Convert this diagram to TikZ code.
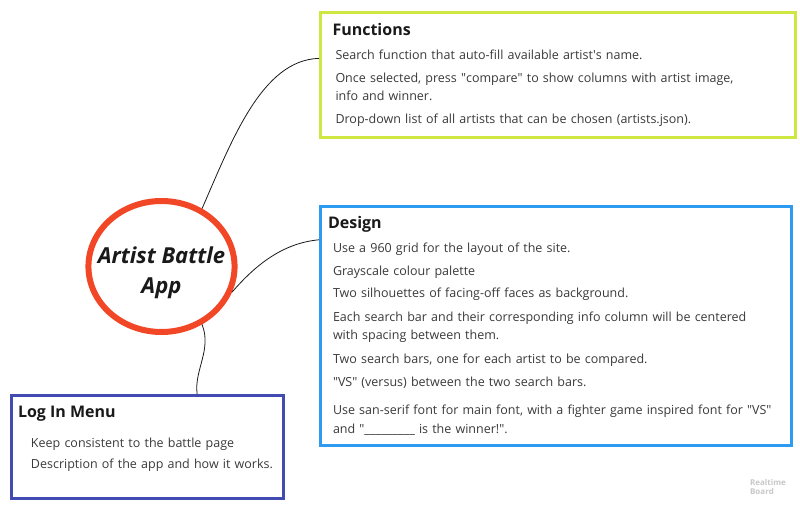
\documentclass[tikz,border=0pt]{standalone}
\usepackage{fontspec}
\setmainfont{Open Sans}
\usepackage{tikz}
\usepackage{xcolor}
\usetikzlibrary{shapes.geometric}

\definecolor{boardred}{HTML}{F24726}
\definecolor{boardlime}{HTML}{CEE741}
\definecolor{boardblue}{HTML}{2D9BF0}
\definecolor{boardnavy}{HTML}{414BB2}
\definecolor{bodygray}{HTML}{3A3A3A}

\tikzset{
  topicbox/.style={rectangle, draw=#1, line width=3pt, fill=white, anchor=north west,
    align=left, inner ysep=11pt, text=bodygray, font=\fontsize{12.5}{18}\selectfont},
  link/.style={draw=black!90, line width=0.8pt},
}
\newcommand{\topictitle}[1]{{\fontsize{16}{20}\selectfont\bfseries\color{black!90}#1}}

\begin{document}
\begin{tikzpicture}[x=1pt, y=-1pt]
\useasboundingbox (0,0) rectangle (800,505);

% central idea
\node[ellipse, draw=boardred, line width=6pt, minimum width=145pt, minimum height=131pt,
  inner xsep=-12pt, inner ysep=10pt, align=center,
  font=\fontsize{22}{30}\selectfont\bfseries\itshape, text=black!90] (app) at (161.5,266.5)
  {\rule{0pt}{30pt}Artist Battle\\App};

% branches
\node[topicbox=boardlime, inner xsep=12pt, text width=451pt] (functions) at (319,11) {
\topictitle{Functions}\\[6pt]
\hspace*{3pt}Search function that auto-fill available artist\textquotesingle s name.\\[5pt]
\hspace*{3pt}Once selected, press \textquotedbl compare\textquotedbl\ to show columns with artist image,\\
\hspace*{3pt}info and winner.\\[5pt]
\hspace*{3pt}Drop-down list of all artists that can be chosen (artists.json).
};

\node[topicbox=boardblue, inner xsep=7.5pt, text width=456pt, inner ysep=10pt] (design) at (319,205) {
\topictitle{Design}\\[6pt]
\hspace*{5pt}Use a 960 grid for the layout of the site.\\[5pt]
\hspace*{5pt}Grayscale colour palette\\[4pt]
\hspace*{5pt}Two silhouettes of facing-off faces as background.\\[6pt]
\hspace*{5pt}Each search bar and their corresponding info column will be centered\\
\hspace*{5pt}with spacing between them.\\[6pt]
\hspace*{5pt}Two search bars, one for each artist to be compared.\\[5pt]
\hspace*{5pt}\textquotedbl VS\textquotedbl\ (versus) between the two search bars.\\[10pt]
\hspace*{5pt}Use san-serif font for main font, with a fighter game inspired font for \textquotedbl VS\textquotedbl\\[1pt]
\hspace*{5pt}and \textquotedbl\_\_\_\_\_\_\_\_\_ is the winner!\textquotedbl.
};

\node[topicbox=boardnavy, inner xsep=6.5pt, text width=259pt] (login) at (10,394) {
\topictitle{Log In Menu}\\[12pt]
\hspace*{13pt}Keep consistent to the battle page\\[3pt]
\hspace*{13pt}Description of the app and how it works.\rule[-19pt]{0pt}{19pt}
};

\node[font=\fontsize{8}{9.5}\selectfont\bfseries, text=black!22, align=left] (watermark) at (768,487)
  {Realtime\\Board};

% connectors
\draw[link] (app.55) .. controls (232,140) and (262,60) .. (functions.176.5);
\draw[link] (app.-20) .. controls (258,262) and (285,243) .. (design.160.7);
\draw[link] (app.-55.6) .. controls (212,350) and (194,370) .. (login.47);
\end{tikzpicture}
\end{document}
